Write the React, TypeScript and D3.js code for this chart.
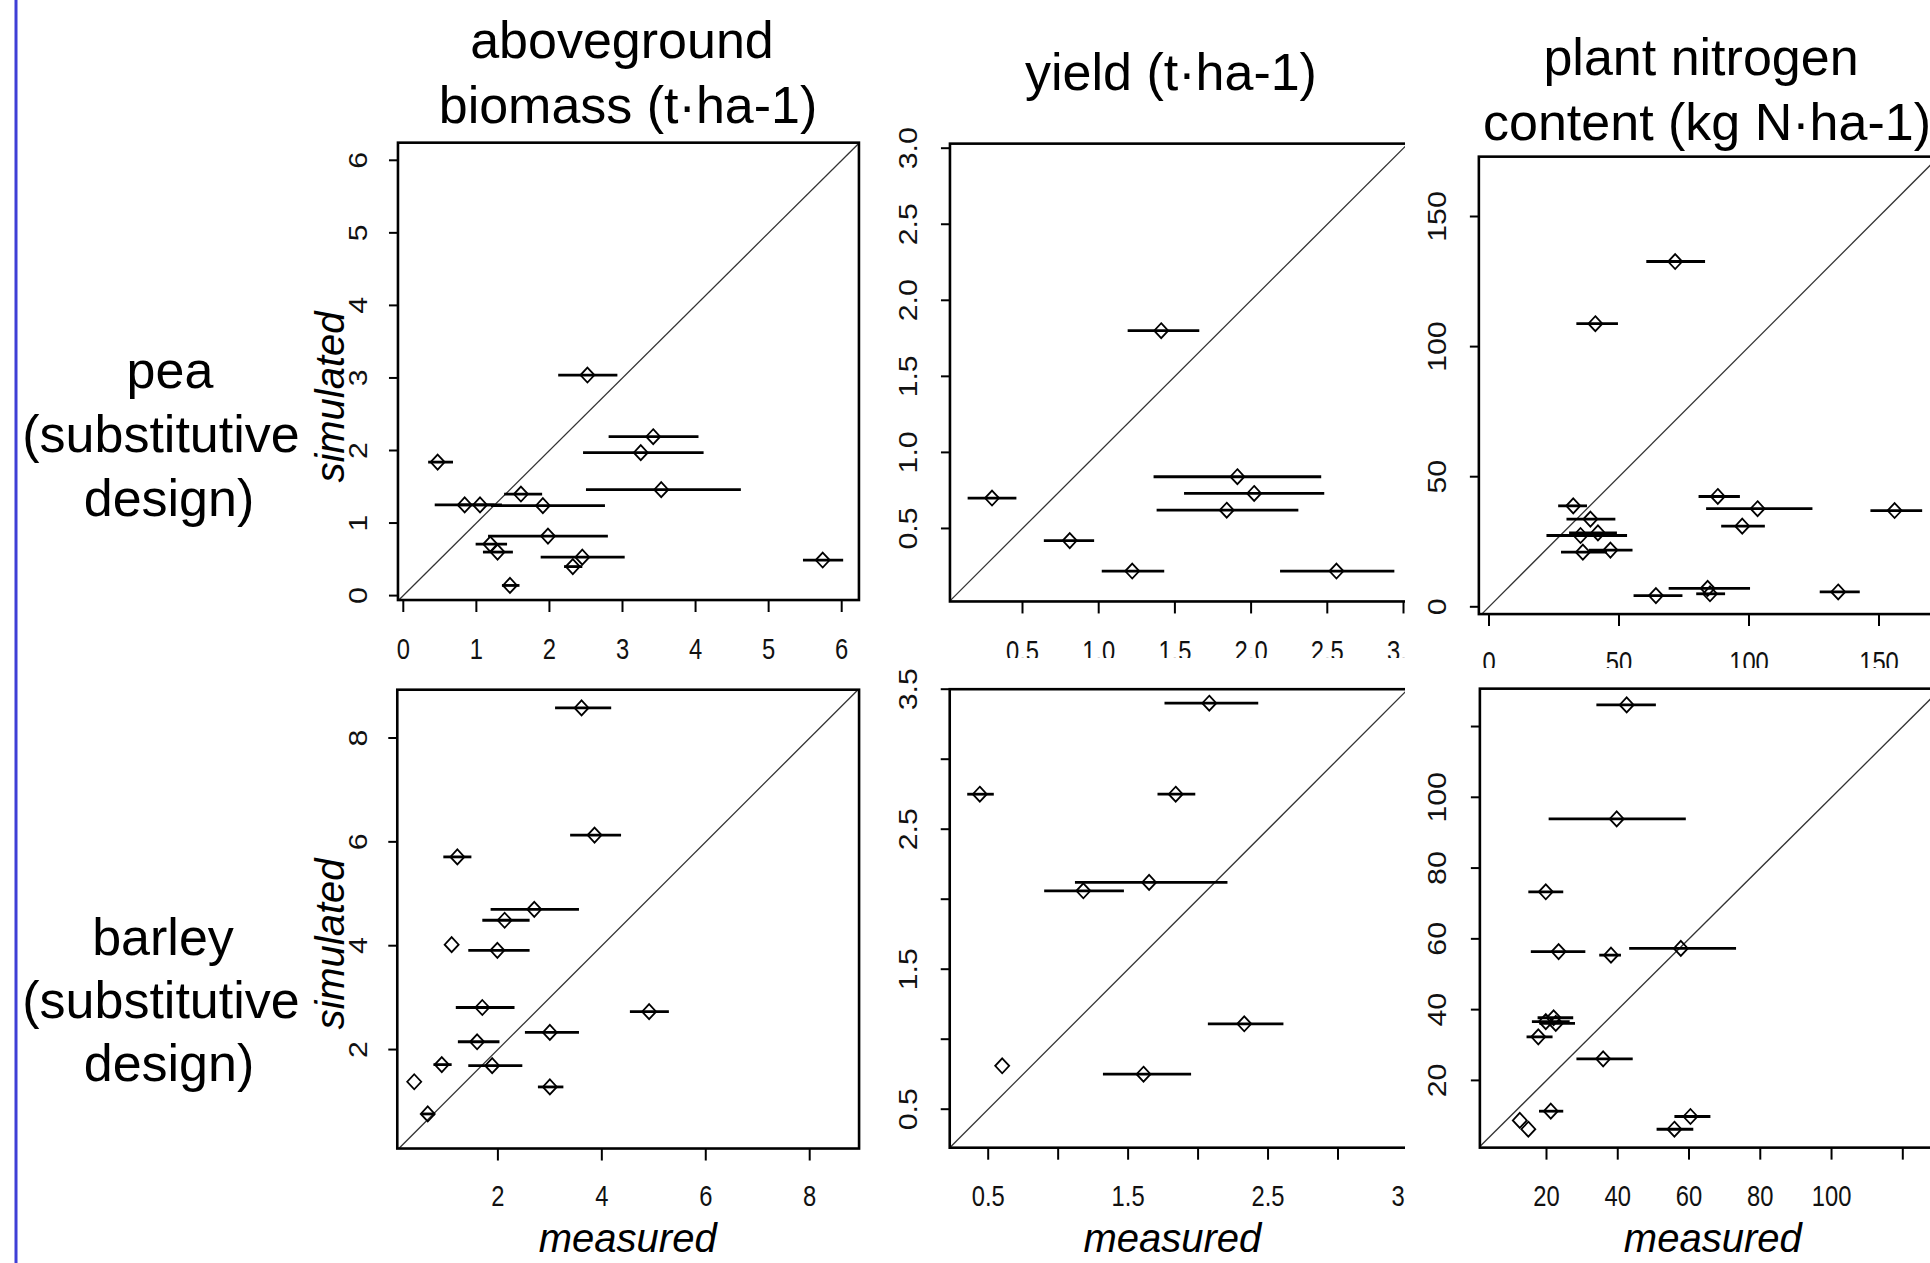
import React from "react";
import * as d3 from "d3";

const FONT = "'Liberation Sans', Arial, Helvetica, sans-serif";

// ---------------- data (measured, simulated, measured error range) ----------------
// pea – aboveground biomass (t·ha-1)
const peaBiomassMeasured = [2.52, 3.42, 3.25, 0.47, 3.53, 1.61, 0.84, 1.05, 1.91, 1.98, 1.19, 1.29, 2.45, 2.32, 1.46, 5.74];
const peaBiomassSimulated = [3.04, 2.19, 1.97, 1.84, 1.46, 1.40, 1.25, 1.25, 1.24, 0.82, 0.71, 0.60, 0.53, 0.40, 0.14, 0.49];
const peaBiomassLow = [2.12, 2.81, 2.46, 0.34, 2.50, 1.38, 0.43, 0.75, 1.20, 1.16, 0.99, 1.09, 1.88, 2.20, 1.35, 5.47];
const peaBiomassHigh = [2.93, 4.04, 4.11, 0.68, 4.62, 1.90, 1.25, 1.35, 2.76, 2.80, 1.42, 1.50, 3.03, 2.45, 1.59, 6.02];

// pea – yield (t·ha-1)
const peaYieldMeasured = [1.41, 0.30, 0.81, 1.22, 2.56, 1.91, 2.02, 1.84];
const peaYieldSimulated = [1.80, 0.70, 0.42, 0.22, 0.22, 0.84, 0.73, 0.62];
const peaYieldLow = [1.19, 0.14, 0.64, 1.02, 2.19, 1.36, 1.56, 1.38];
const peaYieldHigh = [1.66, 0.46, 0.97, 1.43, 2.94, 2.46, 2.48, 2.31];

// pea – plant nitrogen content (kg N·ha-1)
const peaNitrogenMeasured = [71.6, 40.9, 88.0, 103.3, 156.0, 97.4, 32.4, 39.0, 35.2, 41.9, 36.1, 46.7, 64.2, 84.1, 85.0, 134.3];
const peaNitrogenSimulated = [132.7, 108.8, 42.4, 37.7, 37.0, 31.0, 38.8, 33.7, 27.4, 28.4, 21.0, 21.8, 4.3, 7.1, 5.0, 5.7];
const peaNitrogenLow = [60.5, 33.6, 80.6, 83.5, 146.7, 89.3, 26.6, 29.8, 22.1, 30.8, 27.7, 38.4, 55.6, 69.1, 79.7, 127.2];
const peaNitrogenHigh = [83.1, 49.6, 96.5, 124.4, 166.6, 106.1, 37.7, 48.6, 53.1, 49.2, 45.4, 55.2, 74.4, 100.4, 90.8, 142.6];

// barley – aboveground biomass
const barleyBiomassMeasured = [3.61, 3.86, 1.22, 2.70, 2.13, 1.11, 1.99, 1.70, 4.91, 3.00, 1.60, 0.92, 1.89, 0.39, 3.00, 0.65];
const barleyBiomassSimulated = [8.58, 6.13, 5.71, 4.70, 4.49, 4.02, 3.91, 2.81, 2.73, 2.33, 2.15, 1.71, 1.69, 1.38, 1.28, 0.76];
const barleyBiomassLow = [3.10, 3.39, 0.95, 1.86, 1.70, 1.11, 1.43, 1.19, 4.54, 2.52, 1.23, 0.76, 1.43, 0.39, 2.77, 0.52];
const barleyBiomassHigh = [4.18, 4.37, 1.49, 3.56, 2.61, 1.11, 2.61, 2.32, 5.29, 3.56, 2.03, 1.11, 2.47, 0.39, 3.26, 0.79];

// barley – yield
const barleyYieldMeasured = [2.08, 0.44, 1.84, 1.65, 1.18, 2.33, 0.60, 1.61];
const barleyYieldSimulated = [3.40, 2.75, 2.75, 2.12, 2.06, 1.11, 0.81, 0.75];
const barleyYieldLow = [1.76, 0.35, 1.71, 1.12, 0.90, 2.07, 0.60, 1.32];
const barleyYieldHigh = [2.43, 0.54, 1.98, 2.21, 1.47, 2.61, 0.60, 1.95];

// barley – plant nitrogen content
const barleyNitrogenMeasured = [42.5, 39.7, 19.8, 23.4, 38.1, 57.7, 19.8, 22.0, 22.6, 17.7, 35.9, 21.2, 12.5, 14.9, 60.4, 55.9];
const barleyNitrogenSimulated = [126.1, 93.9, 73.3, 56.4, 55.4, 57.3, 36.6, 37.7, 36.1, 32.3, 26.1, 11.3, 8.7, 6.2, 9.8, 6.2];
const barleyNitrogenLow = [34.0, 20.6, 14.9, 15.6, 34.8, 43.2, 15.9, 17.5, 18.0, 14.4, 28.4, 17.9, 12.5, 14.9, 55.9, 50.9];
const barleyNitrogenHigh = [50.7, 59.1, 24.7, 30.9, 40.9, 73.2, 26.5, 27.5, 28.0, 21.7, 44.2, 24.7, 12.5, 14.9, 66.0, 61.2];

// ---------------- ticks ----------------
const peaBiomassTicks = [0, 1, 2, 3, 4, 5, 6];
const peaYieldTicks = [0.5, 1.0, 1.5, 2.0, 2.5, 3.0];
const peaNitrogenTicks = [0, 50, 100, 150];
const barleyBiomassTicks = [2, 4, 6, 8];
const barleyYieldTicks = [0.5, 1.0, 1.5, 2.0, 2.5, 3.0, 3.5];
const barleyYieldLabelled = [0.5, 1.5, 2.5, 3.5];
const barleyNitrogenTicks = [20, 40, 60, 80, 100, 120];
const barleyNitrogenLabelled = [20, 40, 60, 80, 100];

// ---------------- text ----------------
const columnTitles = [
  ["aboveground", "biomass (t·ha-1)"],
  ["yield (t·ha-1)"],
  ["plant nitrogen", "content (kg N·ha-1)"],
];
const rowTitles = [
  ["pea", "(substitutive", "design)"],
  ["barley", "(substitutive", "design)"],
];
const xAxisTitle = "measured";
const yAxisTitle = "simulated";

const f1 = d3.format(".1f");
const fInt = (v: number) => String(v);

// ---------------- layout of the six pasted plots ----------------
type Cfg = {
  id: string;
  xd: [number, number]; xr: [number, number];
  yd: [number, number]; yr: [number, number];
  box: [number, number, number, number];
  xTicks: number[]; xLab: number[]; xFmt: (v: number) => string;
  yTicks: number[]; yLab: number[]; yFmt: (v: number) => string;
  xLabBase: number; yLabBase: number;
  clip: null | [number, number, number, number];
  m: number[]; s: number[]; lo: number[]; hi: number[];
  ylabY: number | null; xlabX: number | null;
};

const panels: Cfg[] = [
  {
    id: "p1", xd: [0, 6], xr: [403.3, 841.7], yd: [0, 6], yr: [595.6, 160.3],
    box: [-0.073, 6.236, -0.061, 6.243],
    xTicks: peaBiomassTicks, xLab: peaBiomassTicks, xFmt: fInt,
    yTicks: peaBiomassTicks, yLab: peaBiomassTicks, yFmt: fInt,
    xLabBase: 659, yLabBase: 367, clip: null,
    m: peaBiomassMeasured, s: peaBiomassSimulated, lo: peaBiomassLow, hi: peaBiomassHigh,
    ylabY: 397, xlabX: null,
  },
  {
    id: "p2", xd: [0, 3], xr: [946.3, 1403.5], yd: [0, 3], yr: [604.5, 148.2],
    box: [0.024, 3.05, 0.02, 3.03],
    xTicks: peaYieldTicks, xLab: peaYieldTicks, xFmt: f1,
    yTicks: peaYieldTicks, yLab: peaYieldTicks, yFmt: f1,
    xLabBase: 661, yLabBase: 917, clip: [870, 95, 535, 563],
    m: peaYieldMeasured, s: peaYieldSimulated, lo: peaYieldLow, hi: peaYieldHigh,
    ylabY: null, xlabX: null,
  },
  {
    id: "p3", xd: [0, 150], xr: [1489, 1879], yd: [0, 150], yr: [606.8, 216.5],
    box: [-3.9, 172, -2.8, 173],
    xTicks: peaNitrogenTicks, xLab: peaNitrogenTicks, xFmt: fInt,
    yTicks: peaNitrogenTicks, yLab: peaNitrogenTicks, yFmt: fInt,
    xLabBase: 672, yLabBase: 1446, clip: [1410, 145, 520, 523],
    m: peaNitrogenMeasured, s: peaNitrogenSimulated, lo: peaNitrogenLow, hi: peaNitrogenHigh,
    ylabY: null, xlabX: null,
  },
  {
    id: "p4", xd: [0, 8], xr: [393.96, 809.7], yd: [0, 8], yr: [1153.4, 738],
    box: [0.064, 8.95, 0.094, 8.93],
    xTicks: barleyBiomassTicks, xLab: barleyBiomassTicks, xFmt: fInt,
    yTicks: barleyBiomassTicks, yLab: barleyBiomassTicks, yFmt: fInt,
    xLabBase: 1206, yLabBase: 367, clip: null,
    m: barleyBiomassMeasured, s: barleyBiomassSimulated, lo: barleyBiomassLow, hi: barleyBiomassHigh,
    ylabY: 944, xlabX: 627.7,
  },
  {
    id: "p5", xd: [0.5, 3.0], xr: [988.2, 1338], yd: [0.5, 3.0], yr: [1109.2, 759.2],
    box: [0.225, 3.55, 0.225, 3.5],
    xTicks: barleyYieldTicks, xLab: barleyYieldLabelled, xFmt: f1,
    yTicks: barleyYieldTicks, yLab: barleyYieldLabelled, yFmt: f1,
    xLabBase: 1206, yLabBase: 917, clip: [870, 660, 535, 603],
    m: barleyYieldMeasured, s: barleyYieldSimulated, lo: barleyYieldLow, hi: barleyYieldHigh,
    ylabY: null, xlabX: 1172.4,
  },
  {
    id: "p6", xd: [20, 120], xr: [1546.5, 1902.8], yd: [20, 100], yr: [1080.4, 797.3],
    box: [1.3, 130, 1.0, 130.7],
    xTicks: barleyNitrogenTicks, xLab: barleyNitrogenLabelled, xFmt: fInt,
    yTicks: barleyNitrogenTicks, yLab: barleyNitrogenLabelled, yFmt: fInt,
    xLabBase: 1206, yLabBase: 1446, clip: [1410, 660, 520, 603],
    m: barleyNitrogenMeasured, s: barleyNitrogenSimulated, lo: barleyNitrogenLow, hi: barleyNitrogenHigh,
    ylabY: null, xlabX: 1712.8,
  },
];

const TICK_FS = 29;
const HW = 7;
const HH = 7.5;

function Panel({ c }: { c: Cfg }) {
  const x = d3.scaleLinear().domain(c.xd).range(c.xr);
  const y = d3.scaleLinear().domain(c.yd).range(c.yr);
  const bx0 = x(c.box[0]);
  const bx1 = x(c.box[1]);
  const by0 = y(c.box[2]);
  const by1 = y(c.box[3]);
  const dLo = Math.max(c.box[0], c.box[2]);
  const dHi = Math.min(c.box[1], c.box[3]);
  const clipId = "clip-" + c.id;
  const diag = d3.line<number>().x((v) => x(v)).y((v) => y(v))([dLo, dHi]) || "";
  return (
    <g>
      {c.clip && (
        <defs>
          <clipPath id={clipId}>
            <rect x={c.clip[0]} y={c.clip[1]} width={c.clip[2]} height={c.clip[3]} />
          </clipPath>
        </defs>
      )}
      <g clipPath={c.clip ? `url(#${clipId})` : undefined}>
        <path d={diag} stroke="#333" strokeWidth={1.3} fill="none" />
        {c.m.map((mv, i) => (
          <g key={i}>
            {c.hi[i] > c.lo[i] && (
              <line x1={x(c.lo[i])} x2={x(c.hi[i])} y1={y(c.s[i])} y2={y(c.s[i])} stroke="#000" strokeWidth={2.8} />
            )}
            <path
              d={`M${x(mv)},${y(c.s[i]) - HH}L${x(mv) + HW},${y(c.s[i])}L${x(mv)},${y(c.s[i]) + HH}L${x(mv) - HW},${y(c.s[i])}Z`}
              fill="none"
              stroke="#000"
              strokeWidth={1.8}
            />
          </g>
        ))}
        <rect x={bx0} y={by1} width={bx1 - bx0} height={by0 - by1} fill="none" stroke="#000" strokeWidth={2.6} />
        {c.xTicks.map((t) => (
          <line key={"xt" + t} x1={x(t)} x2={x(t)} y1={by0} y2={by0 + 12} stroke="#000" strokeWidth={2} />
        ))}
        {c.yTicks.map((t) => (
          <line key={"yt" + t} x1={bx0 - 9} x2={bx0} y1={y(t)} y2={y(t)} stroke="#000" strokeWidth={2} />
        ))}
        {c.xLab.map((t) => (
          <text
            key={"xl" + t}
            transform={`translate(${x(t)},${c.xLabBase}) scale(0.82,1)`}
            textAnchor="middle"
            fontFamily={FONT}
            fontSize={TICK_FS}
            fill="#111"
          >
            {c.xFmt(t)}
          </text>
        ))}
        {c.yLab.map((t) => (
          <text
            key={"yl" + t}
            transform={`translate(${c.yLabBase},${y(t)}) rotate(-90) scale(1.08,0.9)`}
            textAnchor="middle"
            fontFamily={FONT}
            fontSize={28}
            fill="#111"
          >
            {c.yFmt(t)}
          </text>
        ))}
      </g>
      {c.ylabY !== null && (
        <text
          transform={`translate(344,${c.ylabY}) rotate(-90)`}
          textAnchor="middle"
          fontFamily={FONT}
          fontStyle="italic"
          fontSize={40}
          fill="#000"
        >
          {yAxisTitle}
        </text>
      )}
      {c.xlabX !== null && (
        <text
          x={c.xlabX}
          y={1252}
          textAnchor="middle"
          fontFamily={FONT}
          fontStyle="italic"
          fontSize={40}
          fill="#000"
        >
          {xAxisTitle}
        </text>
      )}
    </g>
  );
}

const titleFS = 52;
const titlePos = [
  [[622, 58], [628, 123]],
  [[1171, 90]],
  [[1701, 75], [1707, 140]],
];
const rowPos = [
  [[170, 388], [161, 452], [169, 516]],
  [[163, 955], [161, 1018], [169, 1081]],
];

export default function App() {
  return (
    <svg
      width={1930}
      height={1263}
      style={{ position: "absolute", left: 0, top: 0, background: "#fff" }}
    >
      <rect x={0} y={0} width={1930} height={1263} fill="#fff" />
      <line x1={16} x2={16} y1={0} y2={1263} stroke="#3f3fd6" strokeWidth={3} />
      {columnTitles.map((lines, ci) =>
        lines.map((t, li) => (
          <text
            key={"ct" + ci + li}
            x={titlePos[ci][li][0]}
            y={titlePos[ci][li][1]}
            textAnchor="middle"
            fontFamily={FONT}
            fontSize={titleFS}
            fill="#000"
          >
            {t}
          </text>
        ))
      )}
      {rowTitles.map((lines, ri) =>
        lines.map((t, li) => (
          <text
            key={"rt" + ri + li}
            x={rowPos[ri][li][0]}
            y={rowPos[ri][li][1]}
            textAnchor="middle"
            fontFamily={FONT}
            fontSize={titleFS}
            fill="#000"
          >
            {t}
          </text>
        ))
      )}
      {panels.map((p) => (
        <Panel key={p.id} c={p} />
      ))}
    </svg>
  );
}
